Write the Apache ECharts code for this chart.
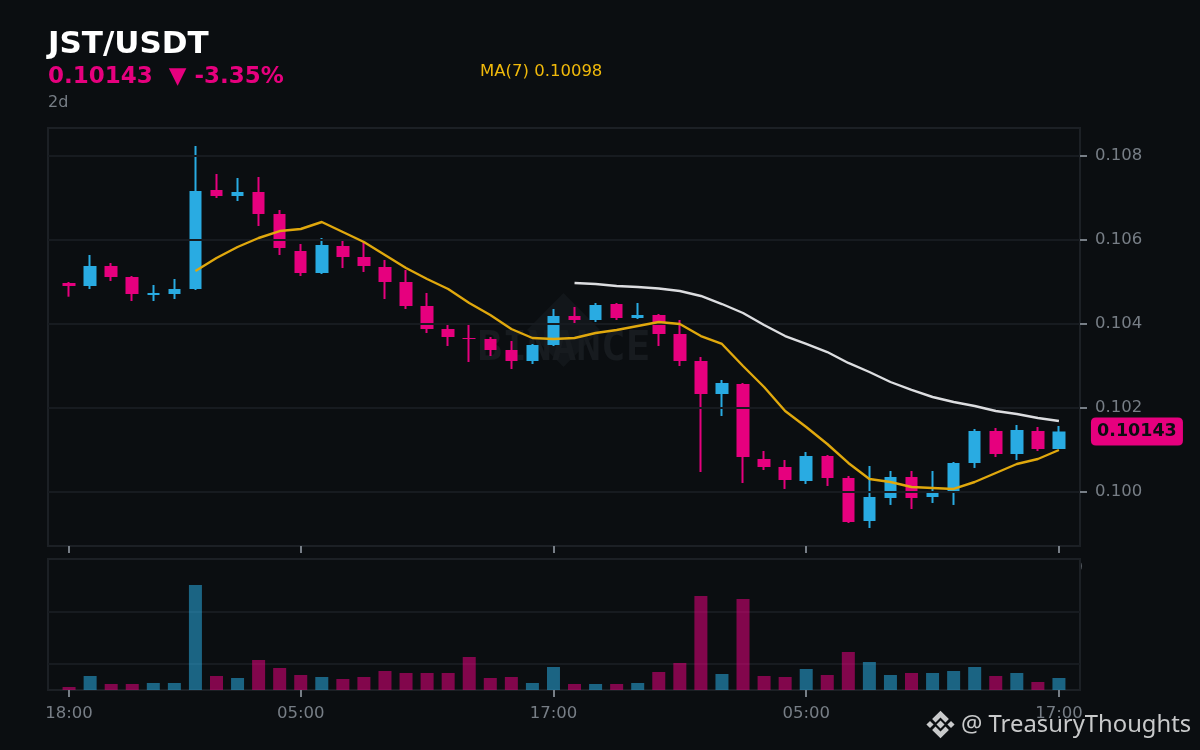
<!DOCTYPE html>
<html>
<head>
<meta charset="utf-8">
<style>html,body{margin:0;padding:0;background:#0b0e11}#c{width:1200px;height:750px}</style>
<script src="https://cdn.jsdelivr.net/npm/echarts@6/dist/echarts.min.js"></script>
</head>
<body>
<div id="c"></div>
<script>
const startHour = 18;
const tickPositions = [0, 11, 23, 35, 47];
const priceTicks = [0.100, 0.102, 0.104, 0.106, 0.108];
const volumeGrid = [50, 150];
const opens = [.104964,.104893,.105369,.105107,.104679,.104702,.104821,.107179,.107036,.107131,.106607,.105726,.105202,.105845,.105583,.105345,.104988,.104417,.103869,.103655,.103631,.103369,.103107,.103488,.104179,.104083,.104464,.104131,.104202,.103750,.103107,.102321,.102560,.100774,.100583,.100250,.100845,.100321,.099298,.099845,.100345,.099869,.100012,.100679,.101440,.100893,.101440,.101012];
const closes = [.104893,.105369,.105107,.104702,.104726,.104821,.107155,.107036,.107131,.106607,.105798,.105202,.105869,.105583,.105369,.104988,.104417,.103869,.103679,.103631,.103369,.103107,.103488,.104179,.104083,.104440,.104131,.104202,.103750,.103107,.102321,.102583,.100821,.100583,.100274,.100845,.100321,.099274,.099869,.100345,.099845,.099988,.100679,.101440,.100893,.101464,.101012,.10143];
const lows = [.104638,.104821,.105012,.104536,.104536,.104583,.104798,.106988,.106917,.106321,.105631,.105131,.105179,.105321,.105226,.104583,.104345,.103774,.103464,.103083,.103226,.102917,.103036,.103464,.103988,.104036,.104083,.104107,.103464,.102988,.100464,.101798,.100202,.100512,.100060,.100179,.100131,.099250,.099131,.099679,.099583,.099726,.099679,.100560,.100821,.100750,.100964,.101012];
const highs = [.104988,.105631,.105440,.105131,.104917,.105060,.108226,.107560,.107464,.107488,.106702,.105893,.106036,.106012,.105940,.105512,.105274,.104726,.103964,.103988,.103679,.103583,.103512,.104345,.104393,.104488,.104488,.104488,.104226,.104083,.103202,.102655,.102583,.100964,.100750,.100940,.100869,.100369,.100607,.100488,.100488,.100488,.100702,.101488,.101512,.101583,.101536,.101560];
const volumes = [5.8,26.9,11.5,11.5,13.5,13.5,201.9,26.9,23.1,57.7,42.3,28.8,25,21.2,25,36.5,32.7,32.7,32.7,63.5,23.1,25,13.5,44.2,11.5,11.5,11.5,13.5,34.6,51.9,180.8,30.8,175,26.9,25,40.4,28.8,73.1,53.8,28.8,32.7,32.7,36.5,44.2,26.9,32.7,15.4,23.1];
const ma7 = [.105250,.105560,.105821,.106036,.106202,.106250,.106417,.106179,.105940,.105631,.105321,.105060,.104821,.104488,.104202,.103869,.103655,.103631,.103655,.103774,.103845,.103940,.104036,.103988,.103702,.103512,.102988,.102488,.101917,.101536,.101131,.100679,.100298,.100226,.100107,.100083,.100060,.100226,.100440,.100655,.100774,.100988];
const ma25 = [.104964,.104940,.104893,.104869,.104833,.104774,.104655,.104464,.104250,.103964,.103702,.103512,.103321,.103060,.102845,.102607,.102417,.102250,.102131,.102036,.101917,.101845,.101750,.101679];

const BG = '#0b0e11', UP = '#29abe2', DOWN = '#e6007e', GRID = '#171b20', BORDER = '#1c2025', MUTED = '#777e86';
const FONT = '"DejaVu Sans"';

// one empty slot either side of the 48 candles
const categories = ['', ...opens.map((_, i) => String((startHour + i) % 24).padStart(2, '0') + ':00'), ' '];
const isTick = idx => tickPositions.includes(idx - 1);
const candleData = [['-','-','-','-'], ...opens.map((o, i) => [o, closes[i], lows[i], highs[i]]), ['-','-','-','-']];
const volData = ['-', ...volumes.map((v, i) => ({value: v, itemStyle: {color: closes[i] >= opens[i] ? UP : DOWN}})), '-'];
const pad = (arr, leading) => [...Array(leading).fill('-'), ...arr, '-'];

const logo = {
  type: 'group', x: 940.5, y: 724.5, z: 10,
  children: [
    [[0,-4],[4,0],[0,4],[-4,0]],
    [[-10.5,-3.6],[-6.9,0],[-10.5,3.6],[-14.1,0]],
    [[10.5,-3.6],[14.1,0],[10.5,3.6],[6.9,0]],
    [[0,-13.8],[8.4,-5.4],[5,-2],[0,-7],[-5,-2],[-8.4,-5.4]],
    [[0,13.8],[8.4,5.4],[5,2],[0,7],[-5,2],[-8.4,5.4]]
  ].map(points => ({type: 'polygon', shape: {points}, style: {fill: '#c9cacb'}}))
};

const chart = echarts.init(document.getElementById('c'));
chart.setOption({
  animation: false,
  backgroundColor: BG,
  title: [
    {text: 'JST/USDT', left: 48, top: 29, padding: 0, textStyle: {color: '#ffffff', fontFamily: FONT, fontWeight: 'bold', fontSize: 31}},
    {text: '0.10143  ▼ -3.35%', left: 48, top: 66, padding: 0, textStyle: {color: DOWN, fontFamily: FONT, fontWeight: 'bold', fontSize: 23}},
    {text: '2d', left: 48, top: 95, padding: 0, textStyle: {color: MUTED, fontFamily: FONT, fontWeight: 'normal', fontSize: 16}},
    {text: 'MA(7) 0.10098', left: 480, top: 63, padding: 0, textStyle: {color: '#f0b90b', fontFamily: FONT, fontWeight: 'normal', fontSize: 16.5}}
  ],
  graphic: [
    {type: 'polygon', z: 1, shape: {points: [[563.5,293],[600,330],[563.5,367],[527,330]]}, style: {fill: '#12161a'}},
    {type: 'text', z: 1, x: 564, y: 349, style: {text: 'BINANCE', fill: '#171b1f', font: 'bold 41px "DejaVu Sans Mono"', textAlign: 'center', textVerticalAlign: 'middle'}},
    {type: 'rect', z: 1, shape: {x: 48, y: 559, width: 1032, height: 131}, style: {fill: BG, stroke: BORDER, lineWidth: 2}},
    logo,
    {type: 'text', z: 10, x: 961, y: 725, style: {text: '@ TreasuryThoughts', fill: '#c9cacb', font: '23.8px "Noto Sans"', textAlign: 'left', textVerticalAlign: 'middle'}}
  ],
  grid: [
    {left: 48, right: 120, top: 128, height: 418, show: true, backgroundColor: 'transparent', borderColor: BORDER, borderWidth: 2},
    {left: 48, right: 120, top: 559, height: 131}
  ],
  xAxis: [
    {type: 'category', gridIndex: 0, data: categories, boundaryGap: false, z: 0,
     axisLine: {show: false},
     axisTick: {show: true, length: 7, interval: isTick, lineStyle: {color: MUTED, width: 2}},
     axisLabel: {interval: isTick, color: MUTED, fontFamily: FONT, fontSize: 16.5, margin: 13.5, hideOverlap: false},
     splitLine: {show: false}},
    {type: 'category', gridIndex: 1, data: categories, boundaryGap: false, z: 4,
     axisLine: {show: false},
     axisTick: {show: true, length: 7, interval: isTick, lineStyle: {color: MUTED, width: 2}},
     axisLabel: {interval: isTick, color: MUTED, fontFamily: FONT, fontSize: 16.5, margin: 15.5, hideOverlap: false},
     splitLine: {show: false}}
  ],
  yAxis: [
    {type: 'value', gridIndex: 0, position: 'right', scale: true, min: 0.098702, max: 0.108655, z: 4,
     axisLine: {show: false},
     axisTick: {show: true, length: 7, customValues: priceTicks, lineStyle: {color: MUTED, width: 2}},
     axisLabel: {customValues: priceTicks, formatter: v => v.toFixed(3), color: MUTED, fontFamily: FONT, fontSize: 16.5, margin: 15, padding: [4, 0, 0, 0]},
     splitLine: {show: true, lineStyle: {color: GRID, width: 2}}},
    {type: 'value', gridIndex: 1, position: 'right', min: 0, max: 251.9, z: 2,
     axisLine: {show: false},
     axisTick: {show: false, customValues: volumeGrid},
     axisLabel: {show: false},
     splitLine: {show: true, lineStyle: {color: GRID, width: 2}}}
  ],
  series: [
    {type: 'candlestick', name: 'wicks', xAxisIndex: 0, yAxisIndex: 0, z: 2, barWidth: 1, data: candleData,
     itemStyle: {color: UP, color0: DOWN, borderColor: UP, borderColor0: DOWN, borderWidth: 2}},
    {type: 'candlestick', name: 'JST/USDT', xAxisIndex: 0, yAxisIndex: 0, z: 3, barWidth: 13, data: candleData.map(d => d.slice()),
     itemStyle: {color: UP, color0: DOWN, borderColor: UP, borderColor0: DOWN, borderWidth: 0},
     markPoint: {
       symbol: 'path://M5 0H87Q92 0 92 5V23Q92 28 87 28H5Q0 28 0 23V5Q0 0 5 0Z', symbolSize: [92, 28], symbolOffset: [78, 0], animation: false,
       itemStyle: {color: DOWN},
       label: {show: true, position: 'inside', formatter: '0.10143', color: '#0b0e11', fontFamily: FONT, fontWeight: 'bold', fontSize: 17.5},
       data: [{coord: [categories[48], closes[47]], value: closes[47]}]
     }},
    {type: 'line', name: 'MA(7)', xAxisIndex: 0, yAxisIndex: 0, z: 5, data: pad(ma7, 7), showSymbol: false, symbol: 'none',
     lineStyle: {color: '#e0a80d', width: 2.4}},
    {type: 'line', name: 'MA(25)', xAxisIndex: 0, yAxisIndex: 0, z: 5, data: pad(ma25, 25), showSymbol: false, symbol: 'none',
     lineStyle: {color: '#dcdde0', width: 2.4}},
    {type: 'bar', xAxisIndex: 1, yAxisIndex: 1, z: 3, barWidth: 13, data: volData, itemStyle: {opacity: 0.55}}
  ]
});
</script>
</body>
</html>
